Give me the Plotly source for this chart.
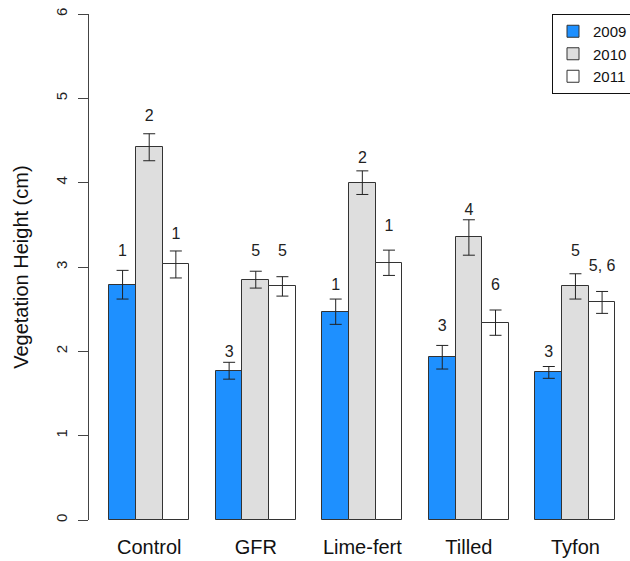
import plotly.graph_objects as go

# Treatments and sampling years
treatments = ["Control", "GFR", "Lime-fert", "Tilled", "Tyfon"]
years = ["2009", "2010", "2011"]

# Mean vegetation height (cm) per treatment, one list per year
height_2009 = [2.79, 1.77, 2.47, 1.93, 1.75]
height_2010 = [4.42, 2.85, 4.00, 3.35, 2.77]
height_2011 = [3.03, 2.77, 3.05, 2.34, 2.58]

# Standard errors
se_2009 = [0.17, 0.10, 0.15, 0.14, 0.07]
se_2010 = [0.16, 0.10, 0.14, 0.21, 0.15]
se_2011 = [0.16, 0.115, 0.15, 0.15, 0.13]

# Significance group letters
letters_2009 = ["1", "3", "1", "3", "3"]
letters_2010 = ["2", "5", "2", "4", "5"]
letters_2011 = ["1", "5", "1", "6", "5, 6"]

y_ticks = [0, 1, 2, 3, 4, 5, 6]

# Heights (cm) at which the group letters are written
letter_height = [
    [3.18, 1.98, 2.78, 2.29, 1.98],
    [4.78, 3.18, 4.28, 3.67, 3.18],
    [3.38, 3.18, 3.48, 2.78, 3.00],
]

heights = [height_2009, height_2010, height_2011]
errors = [se_2009, se_2010, se_2011]
letters = [letters_2009, letters_2010, letters_2011]
fills = ["#1E90FF", "#DEDEDE", "#FFFFFF"]

FONT = "Arial, Liberation Sans, sans-serif"

fig = go.Figure()

n_years = len(years)
group_step = n_years + 1  # one empty bar slot between treatment groups

for j, year in enumerate(years):
    xs = [1 + group_step * i + j + 0.5 for i in range(len(treatments))]
    fig.add_trace(go.Bar(
        x=xs,
        y=heights[j],
        width=1,
        name=year,
        marker=dict(color=fills[j], line=dict(color="#333333", width=1)),
        error_y=dict(type="data", array=errors[j], visible=True,
                     color="#222222", thickness=1, width=6),
        hoverinfo="skip",
    ))

for j, year in enumerate(years):
    xs = [1 + group_step * i + j + 0.5 for i in range(len(treatments))]
    fig.add_trace(go.Scatter(
        x=xs,
        y=letter_height[j],
        mode="text",
        text=letters[j],
        textposition="middle center",
        textfont=dict(family=FONT, size=16, color="#222222"),
        showlegend=False,
        hoverinfo="skip",
    ))

group_centers = [1 + group_step * i + n_years / 2 for i in range(len(treatments))]

fig.add_annotation(
    text="Vegetation Height (cm)",
    xref="paper", yref="paper",
    x=-0.126, y=0.5,
    xanchor="center", yanchor="middle",
    textangle=-90,
    showarrow=False,
    font=dict(family=FONT, size=20, color="#111111"),
)

px_per_unit = 26.64
plot_width = 630 - 89
x_lo = 0.24

fig.update_layout(
    width=630,
    height=561,
    margin=dict(l=89, r=0, t=14, b=41, autoexpand=False),
    paper_bgcolor="white",
    plot_bgcolor="white",
    barmode="overlay",
    bargap=0,
    font=dict(family=FONT, color="#111111"),
    xaxis=dict(
        range=[x_lo, x_lo + plot_width / px_per_unit],
        tickvals=group_centers,
        ticktext=treatments,
        ticks="",
        showline=False,
        showgrid=False,
        zeroline=False,
        tickfont=dict(family=FONT, size=20, color="#111111"),
        ticklabelstandoff=13,
    ),
    yaxis=dict(
        range=[0, 6],
        tickvals=y_ticks,
        ticks="outside",
        ticklen=10,
        tickcolor="#444444",
        tickwidth=1,
        showline=True,
        linecolor="#444444",
        linewidth=1,
        showgrid=False,
        zeroline=False,
        tickangle=-90,
        tickfont=dict(family=FONT, size=15, color="#222222"),
        ticklabelstandoff=5,
    ),
    legend=dict(
        x=(552 - 89) / plot_width,
        y=1,
        xanchor="left",
        yanchor="top",
        bordercolor="#111111",
        borderwidth=1,
        bgcolor="white",
        font=dict(family=FONT, size=15, color="#111111"),
        tracegroupgap=0,
    ),
)

fig.write_html("out.html")
